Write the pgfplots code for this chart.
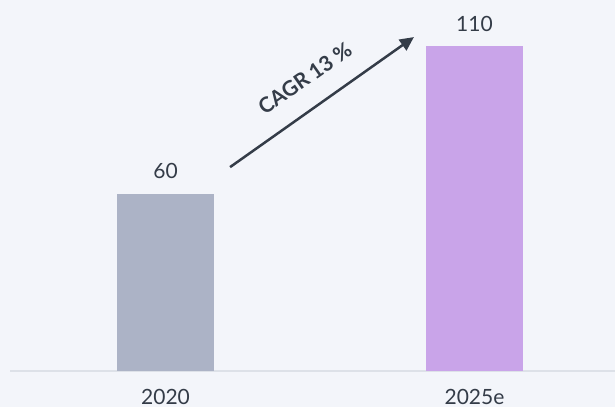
\documentclass[border=0pt]{standalone}
\usepackage{pgfplots}
\pgfplotsset{compat=1.18}
\usepackage{fontspec}
\setmainfont{Lato}
\usetikzlibrary{arrows.meta}
\definecolor{bgc}{RGB}{243,245,250}
\definecolor{bargray}{RGB}{172,179,198}
\definecolor{barpurple}{RGB}{201,164,233}
\definecolor{txt}{RGB}{52,60,72}
\definecolor{basel}{RGB}{221,225,232}

\begin{document}
\begin{tikzpicture}[x=1pt,y=1pt]
\fill[bgc] (0pt,0pt) rectangle (615pt,407pt);
\useasboundingbox (0pt,0pt) rectangle (615pt,407pt);
\begin{axis}[
    at={(0pt,36pt)}, anchor=south west,
    scale only axis, width=615pt, height=371pt,
    xmin=-0.5356, xmax=1.4547, ymin=0, ymax=125.55,
    axis line style={draw=none}, tick style={draw=none},
    ytick=\empty, xtick={0,1}, xticklabels={2020,2025e},
    xticklabel style={font=\fontsize{21}{25}\selectfont, text=txt, inner sep=0pt, text depth=0pt, yshift=-14pt},
    ybar, bar width=97pt, bar shift=0pt,
    nodes near coords,
    every node near coord/.append style={font=\fontsize{21}{25}\selectfont, text=txt, yshift=11pt},
    /pgf/number format/assume math mode=true,
    clip=false,
  ]
  \draw[basel, line width=1.2pt] (axis cs:-0.503,0) -- (axis cs:1.4547,0);
  \addplot[draw=none, fill=bargray] coordinates {(0,60)};
  \addplot[draw=none, fill=barpurple] coordinates {(1,110)};
  \draw[txt, line width=2.5pt, -{Triangle[length=14pt,width=13pt]}] (axis cs:0.209,69.0) -- (axis cs:0.804,113.0);
  \node[rotate=35.2, text=txt, font=\fontsize{21}{25}\selectfont\bfseries] at (axis cs:0.451,99.0) {CAGR 13 \%};
\end{axis}
\end{tikzpicture}
\end{document}
